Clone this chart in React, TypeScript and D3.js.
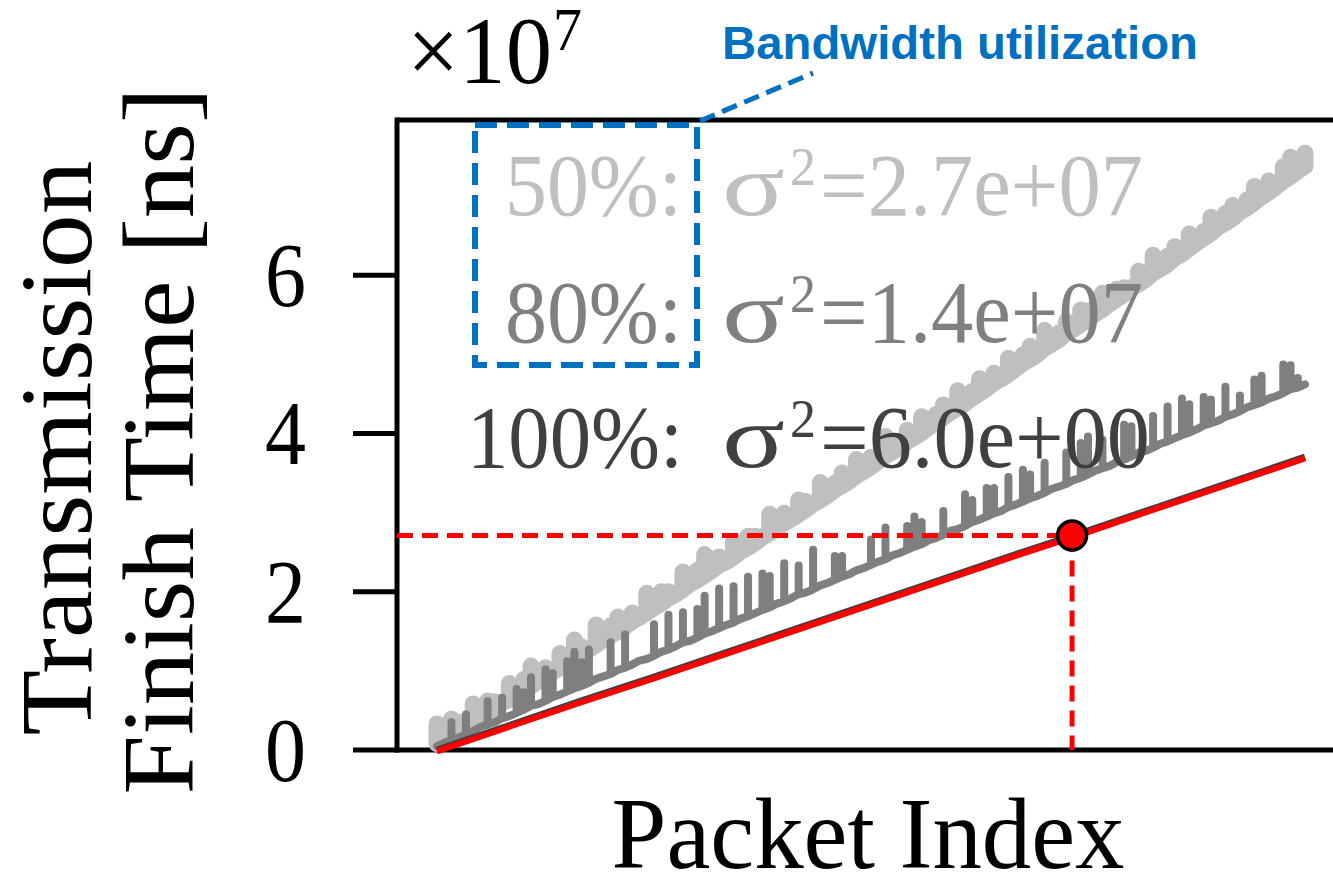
import React, { useEffect } from 'react';
import * as d3 from 'd3';

const W = 1333;
const H = 874;

// ---- data (values in units of 1e7 ns) ----
const yTicks = [0, 2, 4, 6];
const packetStep = 10;
const packetMax = 1200;

const util50Low = [
  0.08, 0.14, 0.19, 0.25, 0.31, 0.36, 0.42, 0.47, 0.53, 0.60,
  0.64, 0.70, 0.77, 0.81, 0.87, 0.94, 0.99, 1.04, 1.10, 1.17,
  1.22, 1.27, 1.33, 1.40, 1.45, 1.50, 1.56, 1.63, 1.68, 1.74,
  1.80, 1.85, 1.92, 1.97, 2.03, 2.10, 2.15, 2.21, 2.27, 2.34,
  2.38, 2.44, 2.51, 2.56, 2.62, 2.69, 2.74, 2.80, 2.87, 2.92,
  2.98, 3.04, 3.11, 3.16, 3.22, 3.29, 3.34, 3.40, 3.47, 3.52,
  3.58, 3.65, 3.72, 3.77, 3.83, 3.90, 3.95, 4.01, 4.08, 4.14,
  4.20, 4.27, 4.32, 4.38, 4.45, 4.51, 4.57, 4.64, 4.69, 4.75,
  4.82, 4.89, 4.94, 5.00, 5.08, 5.13, 5.19, 5.27, 5.32, 5.38,
  5.45, 5.51, 5.57, 5.64, 5.70, 5.76, 5.84, 5.89, 5.95, 6.03,
  6.08, 6.14, 6.22, 6.27, 6.34, 6.41, 6.47, 6.53, 6.61, 6.66,
  6.72, 6.80, 6.85, 6.92, 6.99, 7.05, 7.12, 7.19, 7.25, 7.32,
  7.38,
];
const util50Spike = [
  0.25, 0, 0.2, 0.1, 0, 0.22, 0, 0.15, 0.08, 0,
  0.2, 0, 0.12, 0.25, 0, 0.1, 0, 0.18, 0, 0.22,
  0.08, 0, 0.25, 0, 0.12, 0.18, 0, 0.1, 0, 0.24,
  0, 0.15, 0.08, 0, 0.22, 0, 0.12, 0.26, 0, 0.1,
  0, 0.2, 0, 0.14, 0.08, 0, 0.24, 0, 0.12, 0,
  0.18, 0.1, 0, 0.22, 0, 0.08, 0.16, 0, 0.2, 0,
  0.12, 0, 0.24, 0.08, 0, 0.14, 0, 0.2, 0, 0.1,
  0.16, 0, 0.22, 0, 0.08, 0.18, 0, 0.12, 0, 0.2,
  0, 0.1, 0.16, 0, 0.22, 0, 0.08, 0.14, 0, 0.18,
  0.1, 0, 0.2, 0, 0.12, 0.08, 0, 0.16, 0, 0.22,
  0, 0.1, 0.14, 0, 0.18, 0, 0.08, 0.2, 0, 0.12,
  0.16, 0, 0.1, 0.2, 0, 0.14, 0, 0.18, 0.24, 0.1,
  0.16,
];

const util80Low = [
  0.05, 0.09, 0.13, 0.16, 0.20, 0.24, 0.29, 0.32, 0.35, 0.40,
  0.43, 0.47, 0.51, 0.56, 0.58, 0.62, 0.67, 0.70, 0.74, 0.78,
  0.81, 0.85, 0.90, 0.93, 0.96, 1.01, 1.04, 1.08, 1.13, 1.15,
  1.19, 1.24, 1.27, 1.31, 1.36, 1.38, 1.42, 1.47, 1.50, 1.54,
  1.58, 1.61, 1.66, 1.69, 1.73, 1.77, 1.80, 1.85, 1.88, 1.92,
  1.97, 1.99, 2.03, 2.08, 2.11, 2.15, 2.19, 2.22, 2.27, 2.30,
  2.34, 2.38, 2.41, 2.46, 2.49, 2.53, 2.57, 2.60, 2.65, 2.68,
  2.72, 2.77, 2.79, 2.83, 2.88, 2.91, 2.95, 2.99, 3.02, 3.07,
  3.10, 3.14, 3.18, 3.21, 3.25, 3.30, 3.33, 3.36, 3.41, 3.44,
  3.48, 3.53, 3.56, 3.59, 3.64, 3.67, 3.71, 3.76, 3.78, 3.82,
  3.87, 3.90, 3.94, 3.98, 4.01, 4.05, 4.10, 4.13, 4.16, 4.21,
  4.24, 4.28, 4.33, 4.36, 4.39, 4.44, 4.47, 4.51, 4.56, 4.58,
  4.62,
];
const util80Spike = [
  0, 0, 0.22, 0, 0.25, 0, 0, 0.3, 0, 0.26,
  0, 0.3, 0.22, 0.36, 0, 0.4, 0.3, 0, 0.38, 0.46,
  0.3, 0.42, 0, 0, 0.4, 0, 0.42, 0, 0, 0,
  0.4, 0, 0.44, 0, 0.38, 0, 0.36, 0.48, 0, 0.5,
  0, 0.46, 0, 0.5, 0, 0.46, 0.4, 0, 0.48, 0,
  0.36, 0, 0.5, 0, 0, 0.3, 0.26, 0, 0, 0,
  0.32, 0, 0.4, 0, 0, 0.3, 0.38, 0.28, 0, 0,
  0.3, 0, 0, 0.4, 0.28, 0, 0.36, 0.32, 0, 0.38,
  0, 0.4, 0.3, 0, 0.38, 0, 0, 0.4, 0, 0.44,
  0.48, 0, 0.36, 0, 0, 0.44, 0.38, 0, 0, 0.4,
  0, 0.44, 0, 0.46, 0.36, 0, 0.36, 0.3, 0, 0.38,
  0, 0.2, 0, 0.32, 0.34, 0, 0, 0.36, 0.3, 0.12,
  0,
];

const packets100 = [0, 100, 200, 300, 400, 500, 600, 700, 800, 900, 1000, 1100, 1200];
const util100 = [0, 0.31, 0.62, 0.92, 1.23, 1.54, 1.85, 2.16, 2.47, 2.77, 3.08, 3.39, 3.70];

const markPacket = 878;
const markValue = 2.71;

const legendPct = ['50%:', '80%:', '100%:'];
const legendVar = ['=2.7e+07', '=1.4e+07', '=6.0e+00'];
const legendColor = ['#bfbfbf', '#808080', '#404040'];

const SERIF = '"Liberation Serif", "Times New Roman", Times, serif';
const SANS = '"Liberation Sans", Arial, Helvetica, sans-serif';

function spiky(low: number[], spike: number[]): [number, number][] {
  const pts: [number, number][] = [];
  low.forEach((v, i) => {
    const p = i * packetStep;
    pts.push([p, v]);
    if (spike[i] > 0) {
      pts.push([p, v + spike[i]]);
      pts.push([p, v]);
    }
  });
  return pts;
}

export default function App() {
  useEffect(() => {
    document.body.style.margin = '0';
  }, []);

  const left = 397;
  const top = 120;
  const bottom = 750;

  const x = d3.scaleLinear().domain([0, packetMax]).range([437, 1305]);
  const y = d3.scaleLinear().domain([0, 7.96]).range([bottom, top]);

  const line = d3
    .line<[number, number]>()
    .x((d) => x(d[0]))
    .y((d) => y(d[1]));

  const s50 = spiky(util50Low, util50Spike);
  const s80 = spiky(util80Low, util80Spike);
  const s100: [number, number][] = packets100.map((p, i) => [p, util100[i]]);

  const mx = x(markPacket);
  const my = y(markValue);

  const rowBase = [215, 342, 467];
  const pctX = [505, 505, 467];
  const pctLen = [177, 177, 216];
  const varLen = [323, 323, 330];

  return (
    <svg
      width={W}
      height={H}
      viewBox={`0 0 ${W} ${H}`}
      style={{ position: 'absolute', left: 0, top: 0, display: 'block', background: '#fff' }}
    >
      <rect x={0} y={0} width={W} height={H} fill="#fff" />

      {/* axes frame */}
      <line x1={left} y1={top} x2={W} y2={top} stroke="#000" strokeWidth={5} />
      <line x1={left} y1={bottom} x2={W} y2={bottom} stroke="#000" strokeWidth={5} />
      <line x1={left} y1={top - 2.5} x2={left} y2={bottom + 2.5} stroke="#000" strokeWidth={5} />

      {/* y ticks */}
      {yTicks.map((t) => (
        <g key={t}>
          <line x1={353} x2={left} y1={y(t)} y2={y(t)} stroke="#000" strokeWidth={5} />
          <text
            x={306}
            y={y(t) + 31}
            textAnchor="end"
            fontFamily={SERIF}
            fontSize={90}
            textLength={41}
            lengthAdjust="spacingAndGlyphs"
            fill="#000"
          >
            {t}
          </text>
        </g>
      ))}

      {/* offset text */}
      <text x={407} y={83} fontFamily={SERIF} fontSize={95} textLength={145} lengthAdjust="spacingAndGlyphs" fill="#000">
        ×10
      </text>
      <text x={553} y={50} fontFamily={SERIF} fontSize={62} textLength={29} lengthAdjust="spacingAndGlyphs" fill="#000">
        7
      </text>

      {/* y label */}
      <text
        transform="translate(91,448) rotate(-90)"
        textAnchor="middle"
        fontFamily={SERIF}
        fontSize={102}
        textLength={575}
        lengthAdjust="spacingAndGlyphs"
        fill="#000"
      >
        Transmission
      </text>
      <text
        transform="translate(193,441) rotate(-90)"
        textAnchor="middle"
        fontFamily={SERIF}
        fontSize={102}
        textLength={707}
        lengthAdjust="spacingAndGlyphs"
        fill="#000"
      >
        Finish Time [ns]
      </text>

      {/* x label */}
      <text
        x={868}
        y={868}
        textAnchor="middle"
        fontFamily={SERIF}
        fontSize={102}
        textLength={513}
        lengthAdjust="spacingAndGlyphs"
        fill="#000"
      >
        Packet Index
      </text>

      {/* series */}
      <path d={line(s50) || ''} fill="none" stroke="#bfbfbf" strokeWidth={17} strokeLinejoin="round" strokeLinecap="round" />
      <path d={line(s80) || ''} fill="none" stroke="#7f7f7f" strokeWidth={8} strokeLinejoin="round" strokeLinecap="round" />
      <path d={line(s100) || ''} fill="none" stroke="#404040" strokeWidth={7} strokeLinejoin="round" />
      <path d={line(s100) || ''} fill="none" stroke="#ff0000" strokeWidth={6} transform="translate(0,1.3)" />

      {/* marker guides */}
      <line x1={left} y1={my} x2={mx} y2={my} stroke="#ff0000" strokeWidth={5} strokeDasharray="16 9" />
      <line x1={mx} y1={my} x2={mx} y2={bottom} stroke="#ff0000" strokeWidth={5} strokeDasharray="16 9" />
      <circle cx={mx} cy={my} r={14.5} fill="#ff0000" stroke="#000" strokeWidth={3.5} />

      {/* variance annotations */}
      {legendPct.map((p, i) => (
        <g key={p} fill={legendColor[i]} fontFamily={SERIF}>
          <text x={pctX[i]} y={rowBase[i]} fontSize={88} textLength={pctLen[i]} lengthAdjust="spacingAndGlyphs">
            {p}
          </text>
          <text x={722} y={rowBase[i]} fontSize={88} textLength={63} lengthAdjust="spacingAndGlyphs">
            σ
          </text>
          <text x={790} y={rowBase[i] - 30} fontSize={54} textLength={26} lengthAdjust="spacingAndGlyphs">
            2
          </text>
          <text x={820} y={rowBase[i]} fontSize={88} textLength={varLen[i]} lengthAdjust="spacingAndGlyphs">
            {legendVar[i]}
          </text>
        </g>
      ))}

      {/* bandwidth utilization callout */}
      <rect x={475} y={125} width={222} height={240} fill="none" stroke="#0070c0" strokeWidth={6} strokeDasharray="22 10" />
      <line x1={700} y1={121} x2={813} y2={73} stroke="#0070c0" strokeWidth={5} strokeDasharray="16 8" />
      <text
        x={722}
        y={59}
        fontFamily={SANS}
        fontWeight="bold"
        fontSize={47}
        textLength={476}
        lengthAdjust="spacingAndGlyphs"
        fill="#0070c0"
      >
        Bandwidth utilization
      </text>
    </svg>
  );
}
